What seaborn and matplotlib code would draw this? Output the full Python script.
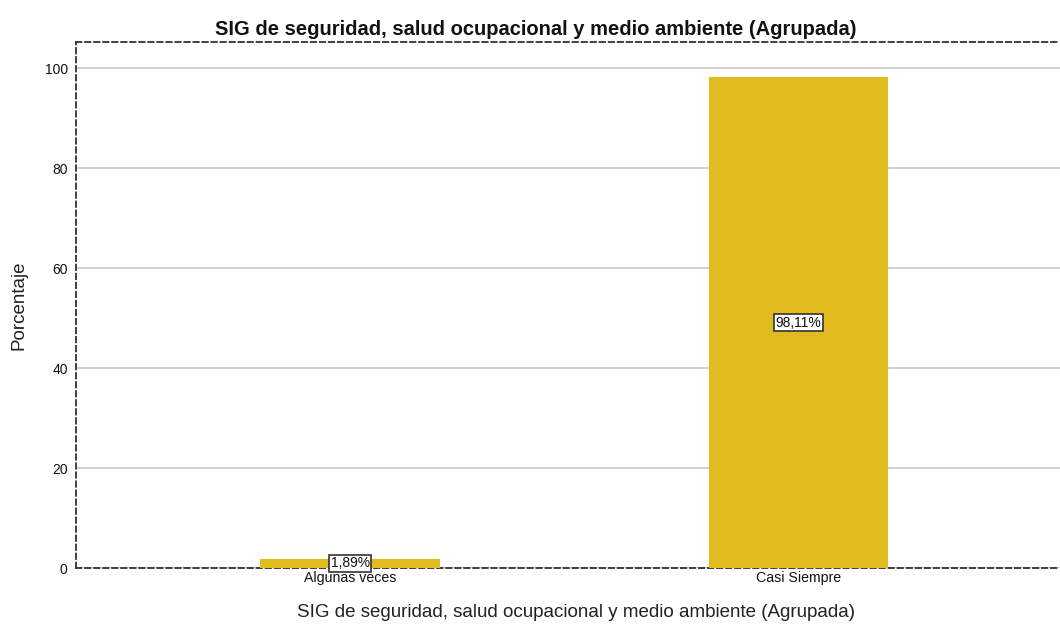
import matplotlib
matplotlib.use("Agg")
import matplotlib.pyplot as plt
import seaborn as sns
import pandas as pd

categories = ["Algunas veces", "Casi Siempre"]
values = [1.89, 98.11]
labels = ["1,89%", "98,11%"]
yticks = [0, 20, 40, 60, 80, 100]

sns.set_theme(style="white")
plt.rcParams['font.family'] = ['Liberation Sans', 'DejaVu Sans']

df = pd.DataFrame({"cat": categories, "val": values})

fig = plt.figure(figsize=(10.6, 6.25), dpi=100)
ax = fig.add_axes([76/1060, 1 - 568/625, 1 - 76/1060, (568 - 42)/625])

sns.barplot(data=df, x="cat", y="val", color="#E1BC1F", saturation=1,
            width=0.40, ax=ax, zorder=3, edgecolor="none")

ax.set_xlim(-0.6116, 1.584)
ax.set_ylim(0, 105.2)
ax.set_yticks(yticks)
ax.set_yticklabels([str(t) for t in yticks], fontsize=10, color="#111111")
for t in ax.get_xticklabels():
    t.set_fontsize(10.2)
    t.set_color("#111111")
ax.tick_params(axis='x', length=0, pad=2)
ax.tick_params(axis='y', length=0, pad=6)
ax.yaxis.grid(True, color="#C8C8C8", linewidth=1.2, zorder=0)
ax.xaxis.grid(False)

for s in ["left", "top", "bottom"]:
    ax.spines[s].set_visible(True)
    ax.spines[s].set_linestyle((0, (3, 2)))
    ax.spines[s].set_color("#333333")
    ax.spines[s].set_linewidth(1.3)
ax.spines["right"].set_visible(False)

for i, (v, lab) in enumerate(zip(values, labels)):
    ax.text(i, v / 2, lab, ha="center", va="center", fontsize=10, zorder=5,
            color="#111111",
            bbox=dict(boxstyle="square,pad=0.12", facecolor="white",
                      edgecolor="#333333", linewidth=1.2))

ax.set_xlabel("SIG de seguridad, salud ocupacional y medio ambiente (Agrupada)",
              fontsize=13.5, color="#222222")
ax.xaxis.set_label_coords((576 - 76) / 984, -0.068)
ax.set_ylabel("Porcentaje", fontsize=13.5, labelpad=12, color="#222222")
ax.set_title("SIG de seguridad, salud ocupacional y medio ambiente (Agrupada)",
             fontsize=14.5, fontweight="bold", pad=5, x=(536 - 76) / 984,
             color="#111111")

fig.savefig("out.png", dpi=100)
